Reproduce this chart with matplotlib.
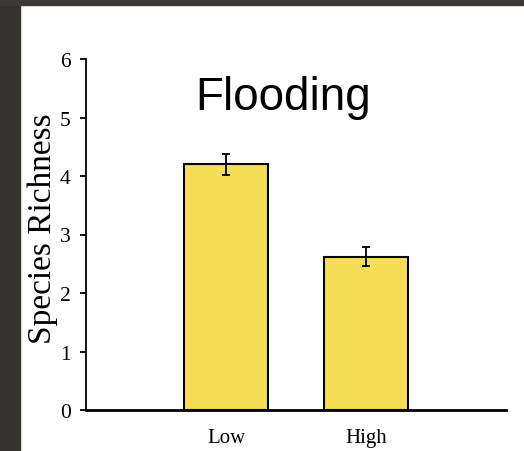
import matplotlib
matplotlib.use("Agg")
import matplotlib.pyplot as plt
from matplotlib.patches import Rectangle

categories = ["Low", "High"]
richness = [4.2, 2.62]
errors = [0.18, 0.16]
yticks = [0, 1, 2, 3, 4, 5, 6]

W, H = 524, 452
fig = plt.figure(figsize=(W / 100, H / 100), dpi=100)
fig.patch.set_facecolor("white")

# dark screenshot border
fig.add_artist(Rectangle((0, 0), 20 / W, 1, transform=fig.transFigure, color="#35332f", zorder=0))
fig.add_artist(Rectangle((0, 1 - 6 / H), 1, 6 / H, transform=fig.transFigure, color="#3b3936", zorder=0))

ax = fig.add_axes([86 / W, (H - 411) / H, (506 - 86) / W, (411 - 60) / H])
x = list(range(len(categories)))
ax.bar(x, richness, width=0.6, color="#f6df56", edgecolor="black", linewidth=1.5, zorder=2)
ax.errorbar(x, richness, yerr=errors, fmt="none", ecolor="black", elinewidth=1.3,
            capsize=3, capthick=1.3, zorder=3)

ax.set_xlim(-1, 2)
ax.set_ylim(0, 6)
ax.set_yticks(yticks)
ax.set_xticks(x)
ax.set_xticklabels(categories, fontfamily="Liberation Serif", fontsize=15)
ax.tick_params(axis="x", length=0, pad=13)
ax.tick_params(axis="y", direction="out", length=4, width=1.3, pad=7, labelsize=15.5)
for lbl in ax.get_yticklabels():
    lbl.set_fontfamily("Liberation Serif")
for s in ["top", "right"]:
    ax.spines[s].set_visible(False)
ax.spines["left"].set_linewidth(1.3)
ax.spines["bottom"].set_linewidth(2)
ax.set_facecolor("white")

fig.text(283 / W, 1 - 110 / H, "Flooding", fontfamily="Liberation Sans", fontsize=33,
         ha="center", va="baseline")
fig.text(43 / W, 1 - 229 / H, "Species Richness", fontfamily="Liberation Serif", fontsize=24,
         rotation=90, ha="center", va="center")

fig.savefig("out.png", dpi=100)
